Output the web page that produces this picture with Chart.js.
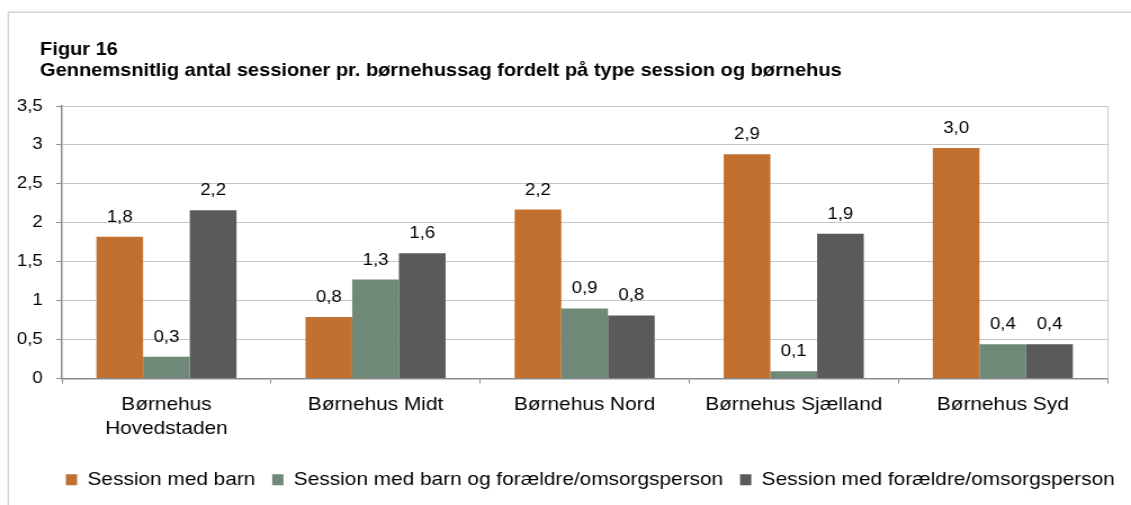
<!DOCTYPE html>
<html>
<head>
<meta charset="utf-8">
<script src="https://cdn.jsdelivr.net/npm/chart.js@4.4.1/dist/chart.umd.min.js"></script>
<style>
  html, body { margin: 0; padding: 0; background: #fff; overflow: hidden; }
  #wrap { width: 1005px; height: 505px; transform: scaleX(1.12537); transform-origin: 0 0; }
</style>
</head>
<body>
<div id="wrap"><canvas id="c"></canvas></div>
<script>
const categories = [['Børnehus', 'Hovedstaden'], 'Børnehus Midt', 'Børnehus Nord', 'Børnehus Sjælland', 'Børnehus Syd'];
const seriesNames = ['Session med barn', 'Session med barn og forældre/omsorgsperson', 'Session med forældre/omsorgsperson'];
const sessionBarn = [1.82, 0.79, 2.17, 2.88, 2.96];
const sessionBarnForaeldre = [0.28, 1.27, 0.90, 0.094, 0.44];
const sessionForaeldre = [2.16, 1.61, 0.81, 1.86, 0.44];
const titleLines = ['Figur 16', 'Gennemsnitlig antal sessioner pr. børnehussag fordelt på type session og børnehus'];
const yMin = 0, yMax = 3.5, yStep = 0.5;

const colors = ['#C17030', '#6E8978', '#5A5A5A'];
const FONT = '"Liberation Sans", Arial, Helvetica, sans-serif';
const fmt = v => v.toFixed(1).replace('.', ',');

const framePlugin = {
  id: 'frame',
  beforeDraw(chart) {
    const ctx = chart.ctx;
    ctx.save();
    ctx.strokeStyle = '#d3d3d3';
    ctx.lineWidth = 1.5;
    ctx.beginPath();
    ctx.moveTo(7.4, chart.height);
    ctx.lineTo(7.4, 12.2);
    ctx.lineTo(chart.width, 12.2);
    ctx.stroke();
    // title
    ctx.fillStyle = '#000';
    ctx.font = 'bold 17.8px ' + FONT;
    ctx.textBaseline = 'alphabetic';
    ctx.textAlign = 'left';
    ctx.fillText(titleLines[0], 35.6, 55);
    ctx.fillText(titleLines[1], 35.6, 76);
    ctx.restore();
  },
  beforeDatasetsDraw(chart) {
    const a = chart.chartArea, ctx = chart.ctx;
    ctx.save();
    ctx.strokeStyle = '#c8c8c8';
    ctx.lineWidth = 1;
    ctx.beginPath();
    ctx.moveTo(a.right + 0.5, a.top);
    ctx.lineTo(a.right + 0.5, a.bottom);
    ctx.stroke();
    ctx.restore();
  },
  afterLayout(chart) {
    if (chart.legend) { chart.legend.left += 25; chart.legend.right += 25; }
  }
};

const valueLabels = {
  id: 'valueLabels',
  afterDatasetsDraw(chart) {
    const ctx = chart.ctx;
    ctx.save();
    ctx.fillStyle = '#000';
    ctx.font = '16.5px ' + FONT;
    ctx.textAlign = 'center';
    ctx.textBaseline = 'alphabetic';
    chart.data.datasets.forEach((ds, i) => {
      chart.getDatasetMeta(i).data.forEach((bar, j) => {
        ctx.fillText(fmt(ds.data[j]), bar.x, bar.y - 15);
      });
    });
    ctx.restore();
  }
};

new Chart(document.getElementById('c'), {
  type: 'bar',
  data: {
    labels: categories,
    datasets: [
      { label: seriesNames[0], data: sessionBarn, backgroundColor: colors[0] },
      { label: seriesNames[1], data: sessionBarnForaeldre, backgroundColor: colors[1] },
      { label: seriesNames[2], data: sessionForaeldre, backgroundColor: colors[2] }
    ]
  },
  options: {
    responsive: true,
    maintainAspectRatio: false,
    animation: false,
    events: [],
    layout: { padding: { top: 106, left: 15, right: 21, bottom: 6 } },
    datasets: { bar: { categoryPercentage: 0.67, barPercentage: 1.0, borderWidth: 0 } },
    plugins: {
      title: { display: false },
      tooltip: { enabled: false },
      legend: {
        position: 'bottom',
        align: 'center',
        labels: {
          boxWidth: 10, boxHeight: 11, padding: 15, color: '#000',
          font: { family: FONT, size: 18.5 }
        }
      }
    },
    scales: {
      x: {
        grid: { display: true, offset: true, drawOnChartArea: false, drawTicks: true, tickLength: 5, tickColor: '#8c8c8c', tickWidth: 1 },
        border: { display: true, color: '#8c8c8c', width: 1.5 },
        ticks: { color: '#000', padding: 9, maxRotation: 0, autoSkip: false, font: { family: FONT, size: 18.5, lineHeight: 1.3 } },
        afterFit(s) { s.height = 77; }
      },
      y: {
        min: yMin, max: yMax,
        grid: { color: '#c6c6c6', lineWidth: 1, tickLength: 5, tickColor: '#8c8c8c' },
        border: { display: true, color: '#8c8c8c', width: 1.5 },
        ticks: { stepSize: yStep, color: '#000', padding: 12, font: { family: FONT, size: 16.5 }, callback: v => String(v).replace('.', ',') },
        afterFit(s) { s.width = 40; }
      }
    }
  },
  plugins: [framePlugin, valueLabels]
});
</script>
</body>
</html>
